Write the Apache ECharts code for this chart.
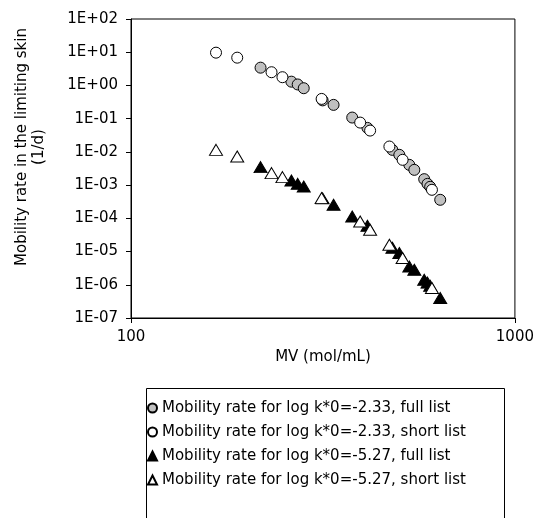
<!DOCTYPE html>
<html>
<head>
<meta charset="utf-8">
<script src="https://cdn.jsdelivr.net/npm/echarts@6/dist/echarts.min.js"></script>
<style>
  html, body { margin: 0; padding: 0; background: #fff; }
  #chart { width: 537px; height: 518px; }
</style>
</head>
<body>
<div id="chart"></div>
<script>
  // MV (mol/mL) of the compounds, full list and short list
  var mvFull = [217.5, 261.7, 271.8, 281.8, 315.6, 337.0, 376.9, 412.9, 479.6, 500, 530.8, 547, 580.4, 592, 601.6, 638.9]
  var mvShort = [166.5, 189.1, 232.3, 248, 313.7, 395.3, 419.6, 471, 509.9, 608]

  // mobility rate (1/d)
  var rateFull233 = [3.43, 1.30, 1.07, 0.825, 0.355, 0.26, 0.108, 0.0528, 0.0115, 0.00815, 0.00407, 0.00288, 0.00151, 0.00109, 0.00089, 0.000361]
  var rateShort233 = [9.7, 6.86, 2.50, 1.77, 0.393, 0.0762, 0.0438, 0.0145, 0.00577, 0.000722]
  var rateFull527 = [0.00348, 0.00137, 0.00109, 0.000908, 0.0004, 0.000256, 0.000114, 0.0000597, 0.000013, 0.000009, 0.00000357, 0.00000284, 0.00000142, 0.00000116, 0.00000094, 0.0000004]
  var rateShort527 = [0.0115, 0.00724, 0.0023, 0.00174, 0.000406, 0.0000805, 0.0000453, 0.000016, 0.00000638, 0.0000008]

  var seriesNames = [
      'Mobility rate for log k*0=-2.33, full list',
      'Mobility rate for log k*0=-2.33, short list',
      'Mobility rate for log k*0=-5.27, full list',
      'Mobility rate for log k*0=-5.27, short list'
  ]

  var font = 'DejaVu Sans'

  function pairs(xs, ys) {
      var out = []
      for (var i = 0; i < xs.length; i++) {
          out.push([xs[i], ys[i]])
      }
      return out
  }

  // 1E+02, 1E-07 ...
  function expLabel(v) {
      var e = Math.round(Math.log10(v))
      var a = Math.abs(e)
      return '1E' + (e < 0 ? '-' : '+') + (a < 10 ? '0' + a : a)
  }

  var myChart = echarts.init(document.getElementById('chart'), null, { renderer: 'canvas' })

  var option = {
      animation: false,
      backgroundColor: '#fff',
      grid: {
          left: 131,
          top: 19,
          width: 385,
          height: 299,
          show: true,
          borderColor: '#000',
          borderWidth: 1
      },
      legend: {
          orient: 'vertical',
          left: 147,
          top: 400,
          padding: 0,
          itemGap: 8,
          itemWidth: 9,
          itemHeight: 9,
          textStyle: { fontFamily: font, fontSize: 15, color: '#000', lineHeight: 16 },
          data: seriesNames
      },
      xAxis: {
          type: 'log',
          logBase: 10,
          min: 100,
          max: 1000,
          name: 'MV (mol/mL)',
          nameLocation: 'middle',
          nameGap: 31,
          nameTextStyle: { fontFamily: font, fontSize: 15, color: '#000' },
          axisLine: { lineStyle: { color: '#000', width: 1 } },
          axisTick: { show: true, inside: false, length: 5, lineStyle: { color: '#000' } },
          minorTick: { show: false },
          axisLabel: {
              fontFamily: font,
              fontSize: 15,
              color: '#000',
              margin: 12,
              formatter: function(v) {
                  return String(Math.round(v))
              }
          },
          splitLine: { show: false }
      },
      yAxis: {
          type: 'log',
          logBase: 10,
          min: 1e-7,
          max: 100,
          splitNumber: 10,
          axisLine: { lineStyle: { color: '#000', width: 1 } },
          axisTick: { show: true, inside: false, length: 5, lineStyle: { color: '#000' } },
          axisLabel: {
              fontFamily: font,
              fontSize: 15,
              color: '#000',
              margin: 13,
              formatter: expLabel
          },
          splitLine: { show: false }
      },
      graphic: [{
          type: 'text',
          x: 31,
          y: 147,
          rotation: Math.PI / 2,
          style: {
              text: 'Mobility rate in the limiting skin\n(1/d)',
              fontFamily: font,
              fontSize: 15,
              lineHeight: 17,
              fill: '#000',
              align: 'center',
              verticalAlign: 'middle'
          }
      }, {
          type: 'rect',
          shape: { x: 146.5, y: 388.5, width: 358, height: 200 },
          style: { fill: 'none', stroke: '#000', lineWidth: 1 },
          silent: true
      }],
      series: [{
          name: seriesNames[0],
          type: 'scatter',
          symbol: 'circle',
          symbolSize: 11,
          itemStyle: { color: '#c0c0c0', borderColor: '#000', borderWidth: 1, opacity: 1 },
          data: pairs(mvFull, rateFull233)
      }, {
          name: seriesNames[1],
          type: 'scatter',
          symbol: 'circle',
          symbolSize: 11,
          itemStyle: { color: '#fff', borderColor: '#000', borderWidth: 1, opacity: 1 },
          data: pairs(mvShort, rateShort233)
      }, {
          name: seriesNames[2],
          type: 'scatter',
          symbol: 'triangle',
          symbolSize: [13, 11],
          itemStyle: { color: '#000', borderColor: '#000', borderWidth: 1, opacity: 1 },
          data: pairs(mvFull, rateFull527)
      }, {
          name: seriesNames[3],
          type: 'scatter',
          symbol: 'triangle',
          symbolSize: [13, 11],
          itemStyle: { color: '#fff', borderColor: '#000', borderWidth: 1, opacity: 1 },
          data: pairs(mvShort, rateShort527)
      }]
  }
  myChart.setOption(option)
</script>
</body>
</html>
